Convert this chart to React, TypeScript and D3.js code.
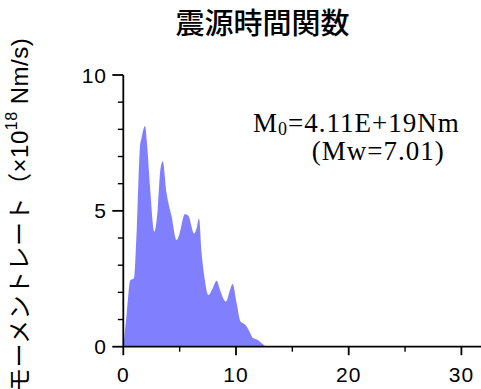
import { useRef, useEffect } from 'react'
import * as d3 from 'd3'

// source time function (moment rate, x10^18 Nm/s)
const TIME = [0, 0.3, 0.62, 0.95, 1.2, 1.48, 1.63, 1.93, 2.1, 2.37, 2.75, 3.05, 3.3, 3.5, 3.85, 4.29, 4.73, 5.0, 5.47, 5.77, 6.3, 6.5, 6.72, 6.95, 7.19, 7.55, 7.85, 8.29, 8.58, 9.11, 9.46, 9.7, 10.06, 10.41, 10.65, 10.95, 11.2, 11.5, 11.9, 12.3, 12.7]
const RATE = [0, 1.2, 2.45, 2.52, 4.4, 7.36, 7.7, 8.12, 7.5, 5.89, 4.23, 5.03, 6.56, 6.83, 5.64, 4.79, 3.93, 4.17, 4.88, 4.82, 4.17, 4.35, 4.72, 3.44, 2.58, 1.9, 2.08, 2.43, 2.09, 1.66, 2.08, 2.31, 1.6, 0.92, 0.86, 0.74, 0.55, 0.32, 0.26, 0.12, 0]

const X_MAJOR = [0, 10, 20, 30]
const X_MINOR = [5, 15, 25]
const Y_MAJOR = [0, 5, 10]
const Y_MINOR = [1, 2, 3, 4, 6, 7, 8, 9]

const TITLE = '震源時間関数'
const M0_TEXT = '=4.11E+19Nm'
const MW_TEXT = '(Mw=7.01)'

export default function App() {
  const svgRef = useRef<SVGSVGElement>(null)

  useEffect(() => {
    if (!svgRef.current) return
    const W = 481
    const H = 389
    const svg = d3.select(svgRef.current)
    svg.selectAll('*').remove()

    const x = d3.scaleLinear().domain([0, 32]).range([123.3, 123.3 + 32 * 11.27])
    const y = d3.scaleLinear().domain([0, 10]).range([346.7, 75])
    const data = TIME.map((t, i) => ({ t, v: RATE[i] }))

    // title
    svg.append('text')
      .attr('x', 262.5).attr('y', 34)
      .attr('text-anchor', 'middle')
      .attr('font-family', '"Noto Sans CJK JP", sans-serif')
      .attr('font-size', 29).attr('font-weight', 500).attr('fill', '#000')
      .text(TITLE)

    // filled area
    const area = d3.area<{ t: number; v: number }>()
      .x(d => x(d.t)).y0(y(0)).y1(d => y(d.v))
      .curve(d3.curveMonotoneX)
    svg.append('path').datum(data)
      .attr('d', area)
      .attr('fill', '#8080ff')

    const axisColor = '#000'
    const sw = 1.8

    // y axis
    svg.append('line')
      .attr('x1', x(0)).attr('x2', x(0)).attr('y1', y(10)).attr('y2', y(0))
      .attr('stroke', axisColor).attr('stroke-width', sw)
    Y_MAJOR.forEach(v => {
      svg.append('line')
        .attr('x1', x(0) - 11).attr('x2', x(0)).attr('y1', y(v)).attr('y2', y(v))
        .attr('stroke', axisColor).attr('stroke-width', sw)
      svg.append('text')
        .attr('x', 107).attr('y', y(v))
        .attr('text-anchor', 'end').attr('dominant-baseline', 'central')
        .attr('font-family', '"Liberation Sans", Arial, sans-serif')
        .attr('font-size', 21).attr('letter-spacing', 1)
        .text(v)
    })
    Y_MINOR.forEach(v => {
      svg.append('line')
        .attr('x1', x(0) - 5.5).attr('x2', x(0)).attr('y1', y(v)).attr('y2', y(v))
        .attr('stroke', axisColor).attr('stroke-width', 1.4)
    })

    // x axis
    svg.append('line')
      .attr('x1', x(0)).attr('x2', W).attr('y1', y(0)).attr('y2', y(0))
      .attr('stroke', axisColor).attr('stroke-width', sw)
    X_MAJOR.forEach(t => {
      svg.append('line')
        .attr('x1', x(t)).attr('x2', x(t)).attr('y1', y(0)).attr('y2', y(0) + 8.5)
        .attr('stroke', axisColor).attr('stroke-width', sw)
      svg.append('text')
        .attr('x', x(t)).attr('y', 382)
        .attr('text-anchor', 'middle')
        .attr('font-family', '"Liberation Sans", Arial, sans-serif')
        .attr('font-size', 21).attr('letter-spacing', 1)
        .text(t)
    })
    X_MINOR.forEach(t => {
      svg.append('line')
        .attr('x1', x(t)).attr('x2', x(t)).attr('y1', y(0)).attr('y2', y(0) + 5)
        .attr('stroke', axisColor).attr('stroke-width', 1.4)
    })

    // y axis title
    const yl = svg.append('text')
      .attr('transform', 'translate(19,392) rotate(-90)')
      .attr('text-anchor', 'start').attr('dominant-baseline', 'central')
      .attr('font-family', '"Liberation Sans", "Noto Sans CJK JP", sans-serif')
      .attr('font-size', 24).attr('letter-spacing', 0.5).attr('fill', '#000')
    yl.append('tspan').text('モーメントレート（×10')
    yl.append('tspan').attr('font-size', 16).attr('dy', -8).text('18')
    yl.append('tspan').attr('dy', 8).text(' Nm/s)')

    // moment annotation
    const ann = svg.append('text')
      .attr('x', 253).attr('y', 131.7)
      .attr('font-family', '"Liberation Serif", "Times New Roman", serif')
      .attr('font-size', 27).attr('letter-spacing', 1).attr('fill', '#000')
    ann.append('tspan').text('M')
    ann.append('tspan').attr('font-size', 18).attr('dy', 3).text('0')
    ann.append('tspan').attr('dy', -3).text(M0_TEXT)

    svg.append('text')
      .attr('x', 311.7).attr('y', 160)
      .attr('font-family', '"Liberation Serif", "Times New Roman", serif')
      .attr('font-size', 27).attr('letter-spacing', 1).attr('fill', '#000')
      .text(MW_TEXT)

    svg.attr('width', W).attr('height', H)
    return () => { svg.selectAll('*').remove() }
  }, [])

  return (
    <div style={{ position: 'absolute', left: 0, top: 0, width: 481, height: 389, background: '#fff', overflow: 'hidden' }}>
      <svg ref={svgRef} width={481} height={389} style={{ display: 'block' }} />
    </div>
  )
}
